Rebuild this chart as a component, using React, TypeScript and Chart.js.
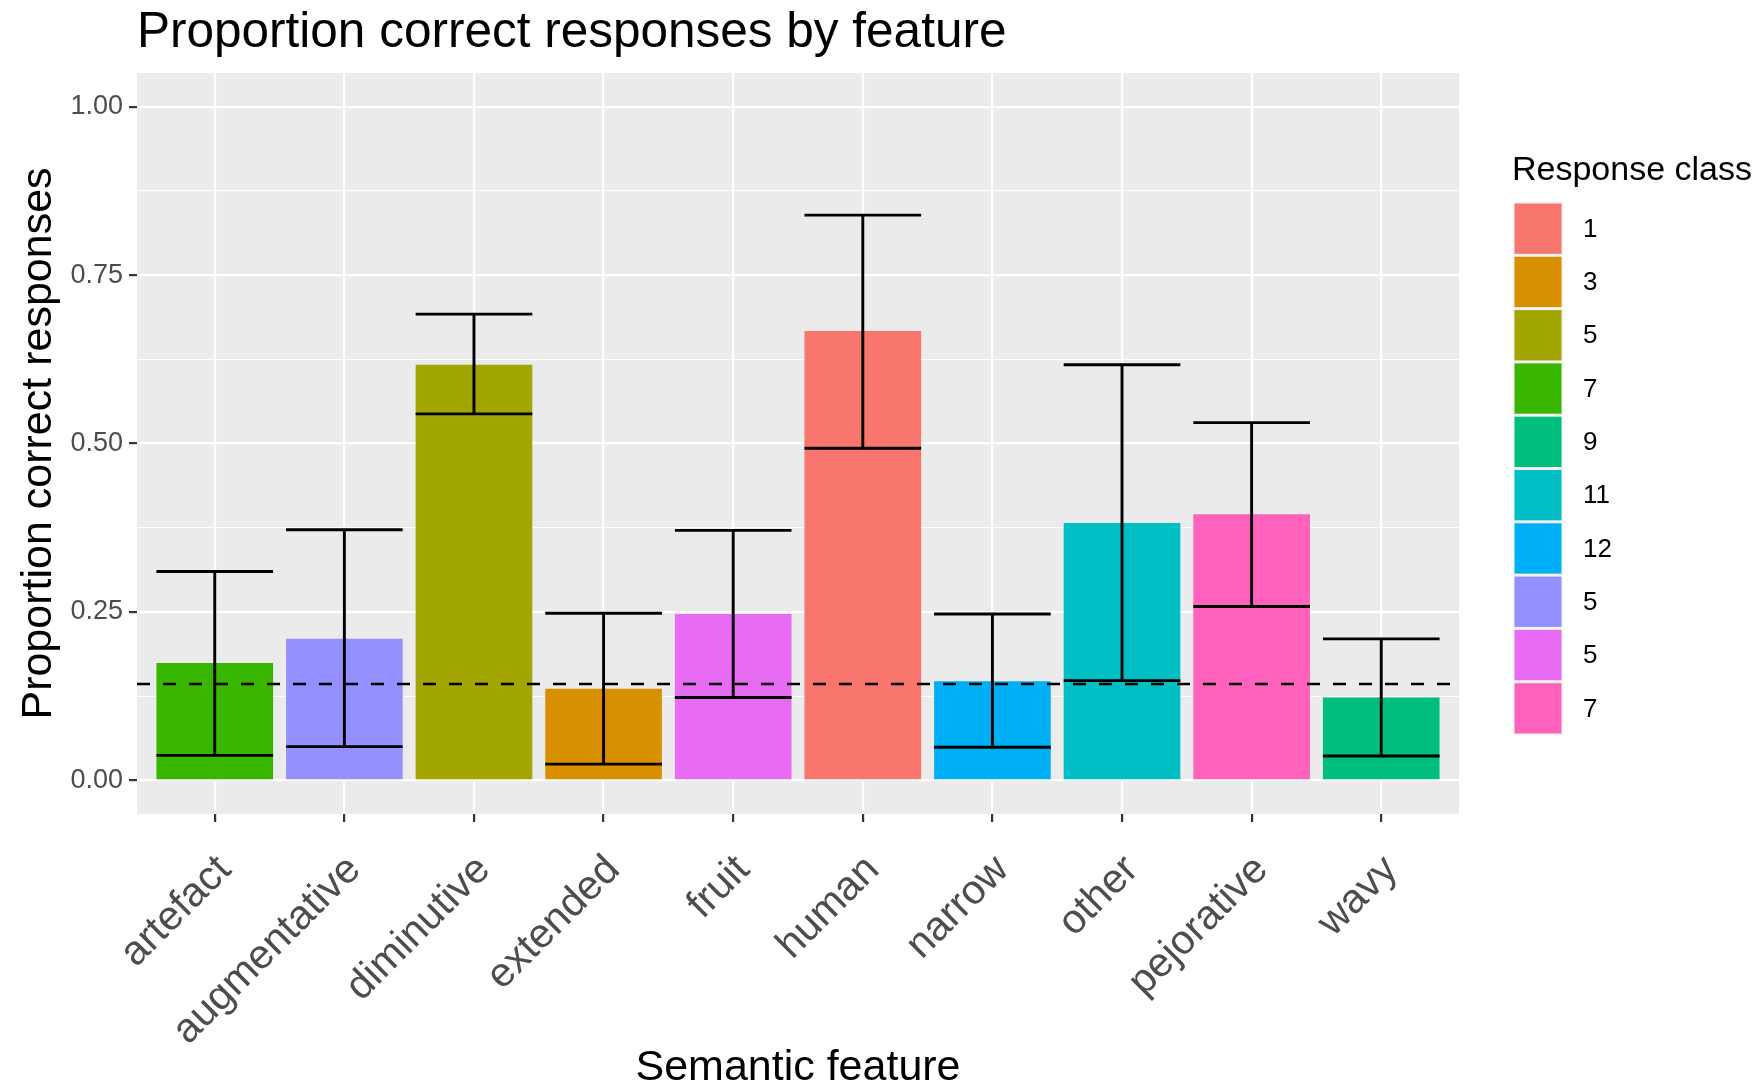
import React, { useEffect, useRef } from "react";
import { Chart, registerables } from "chart.js";

Chart.register(...registerables);

const categories = ["artefact", "augmentative", "diminutive", "extended", "fruit", "human", "narrow", "other", "pejorative", "wavy"];
const proportions = [0.174, 0.21, 0.617, 0.136, 0.247, 0.667, 0.147, 0.382, 0.395, 0.123];
const lowerCI = [0.037, 0.05, 0.544, 0.024, 0.123, 0.493, 0.049, 0.148, 0.258, 0.036];
const upperCI = [0.31, 0.372, 0.692, 0.248, 0.371, 0.839, 0.247, 0.617, 0.531, 0.21];
const barColors = ["#39B600", "#9590FF", "#A3A500", "#D89000", "#E76BF3", "#F8766D", "#00B0F6", "#00BFC4", "#FF62BC", "#00BF7D"];
const legendLabels = ["1", "3", "5", "7", "9", "11", "12", "5", "5", "7"];
const legendColors = ["#F8766D", "#D89000", "#A3A500", "#39B600", "#00BF7D", "#00BFC4", "#00B0F6", "#9590FF", "#E76BF3", "#FF62BC"];
const yTicks = [0, 0.125, 0.25, 0.375, 0.5, 0.625, 0.75, 0.875, 1.0];
const chanceLevel = 0.143;

const FONT = "'Liberation Sans', Arial, Helvetica, sans-serif";
const isMajor = (v: number) => Math.abs(v * 4 - Math.round(v * 4)) < 1e-6;

const decorPlugin = {
  id: "decor",
  beforeDraw(chart: any) {
    const { ctx, chartArea } = chart;
    ctx.save();
    ctx.fillStyle = "#FFFFFF";
    ctx.fillRect(0, 0, chart.width, chart.height);
    ctx.fillStyle = "#EBEBEB";
    ctx.fillRect(chartArea.left, chartArea.top, chartArea.right - chartArea.left, chartArea.bottom - chartArea.top);
    ctx.restore();
  },
  afterDatasetsDraw(chart: any) {
    const { ctx, chartArea } = chart;
    const xs = chart.scales.x;
    const ys = chart.scales.y;
    ctx.save();
    ctx.strokeStyle = "#000000";
    ctx.lineWidth = 2.9;
    ctx.lineCap = "butt";
    categories.forEach((_, i) => {
      const cx = xs.getPixelForValue(i + 1);
      const hw = xs.getPixelForValue(i + 1.45) - cx;
      const yl = ys.getPixelForValue(lowerCI[i]);
      const yu = ys.getPixelForValue(upperCI[i]);
      ctx.beginPath();
      ctx.moveTo(cx - hw, yu);
      ctx.lineTo(cx + hw, yu);
      ctx.moveTo(cx, yu);
      ctx.lineTo(cx, yl);
      ctx.moveTo(cx - hw, yl);
      ctx.lineTo(cx + hw, yl);
      ctx.stroke();
    });
    // chance line
    const yc = ys.getPixelForValue(chanceLevel);
    ctx.lineWidth = 2.7;
    ctx.setLineDash([13, 13]);
    ctx.beginPath();
    ctx.moveTo(chartArea.left, yc);
    ctx.lineTo(chartArea.right, yc);
    ctx.stroke();
    ctx.setLineDash([]);
    ctx.restore();
  },
  afterDraw(chart: any) {
    const { ctx, chartArea } = chart;
    ctx.save();
    // Title
    ctx.fillStyle = "#000000";
    ctx.font = `49.5px ${FONT}`;
    ctx.textAlign = "left";
    ctx.textBaseline = "alphabetic";
    ctx.fillText("Proportion correct responses by feature", 137, 47);
    // X title
    ctx.font = `43px ${FONT}`;
    ctx.textAlign = "center";
    ctx.fillText("Semantic feature", (chartArea.left + chartArea.right) / 2, 1080);
    // Y title
    ctx.save();
    ctx.translate(51, (chartArea.top + chartArea.bottom) / 2);
    ctx.rotate(-Math.PI / 2);
    ctx.textAlign = "center";
    ctx.fillText("Proportion correct responses", 0, 0);
    ctx.restore();
    // Legend
    ctx.font = `34px ${FONT}`;
    ctx.textAlign = "left";
    ctx.fillText("Response class", 1512, 180);
    const keyTop = 202;
    const keyH = 53.3;
    const keyX = 1513;
    const keyW = 50;
    legendLabels.forEach((lab, i) => {
      const y0 = keyTop + i * keyH;
      ctx.fillStyle = "#F2F2F2";
      ctx.fillRect(keyX, y0, keyW, keyH);
      ctx.fillStyle = legendColors[i];
      ctx.fillRect(keyX + 1.5, y0 + 1.5, keyW - 3, keyH - 3);
      ctx.fillStyle = "#000000";
      ctx.font = `26px ${FONT}`;
      ctx.textBaseline = "middle";
      ctx.fillText(lab, 1583, y0 + keyH / 2 + 1);
    });
    ctx.restore();
  },
};

export default function App() {
  const ref = useRef<HTMLCanvasElement | null>(null);
  useEffect(() => {
    if (!ref.current) return;
    const chart = new Chart(ref.current, {
      type: "bar",
      data: {
        datasets: [
          {
            data: categories.map((_, i) => ({ x: i + 1, y: proportions[i] })),
            backgroundColor: barColors,
            borderWidth: 0,
            barPercentage: 0.9,
            categoryPercentage: 1.0,
          },
        ],
      },
      options: {
        responsive: false,
        animation: false,
        maintainAspectRatio: false,
        layout: { padding: { left: 0, top: 73, right: 301, bottom: 0 } },
        plugins: { legend: { display: false }, tooltip: { enabled: false }, title: { display: false } },
        scales: {
          x: {
            type: "linear",
            min: 0.4,
            max: 10.6,
            offset: false,
            afterBuildTicks: (s: any) => {
              s.ticks = categories.map((_, i) => ({ value: i + 1 }));
            },
            afterFit: (s: any) => {
              s.height = 272;
            },
            border: { display: false },
            grid: {
              offset: false,
              color: "#FFFFFF",
              lineWidth: 2.2,
              drawTicks: true,
              tickLength: 8,
              tickColor: "#333333",
              tickWidth: 2.2,
            },
            ticks: {
              autoSkip: false,
              minRotation: 45,
              maxRotation: 45,
              padding: 24,
              labelOffset: 10,
              color: "#4D4D4D",
              font: { family: FONT, size: 41 },
              callback: (v: any) => categories[Math.round(Number(v)) - 1] ?? "",
            },
          },
          y: {
            type: "linear",
            min: -0.05,
            max: 1.05,
            afterBuildTicks: (s: any) => {
              s.ticks = yTicks.map((v) => ({ value: v }));
            },
            afterFit: (s: any) => {
              s.width = 137;
            },
            border: { display: false },
            grid: {
              color: "#FFFFFF",
              lineWidth: (c: any) => (c.tick && isMajor(c.tick.value) ? 2.2 : 1.1),
              drawTicks: true,
              tickLength: 8,
              tickColor: (c: any) => (c.tick && isMajor(c.tick.value) ? "#333333" : "rgba(0,0,0,0)"),
              tickWidth: 2.2,
            },
            ticks: {
              autoSkip: false,
              padding: 6,
              color: "#4D4D4D",
              font: { family: FONT, size: 27 },
              callback: (v: any) => (isMajor(Number(v)) ? Number(v).toFixed(2) : ""),
            },
          },
        },
      },
      plugins: [decorPlugin],
    });
    return () => chart.destroy();
  }, []);
  return (
    <div style={{ position: "absolute", left: 0, top: 0, width: 1760, height: 1086 }}>
      <canvas ref={ref} width={1760} height={1086} style={{ display: "block", width: 1760, height: 1086 }} />
    </div>
  );
}
